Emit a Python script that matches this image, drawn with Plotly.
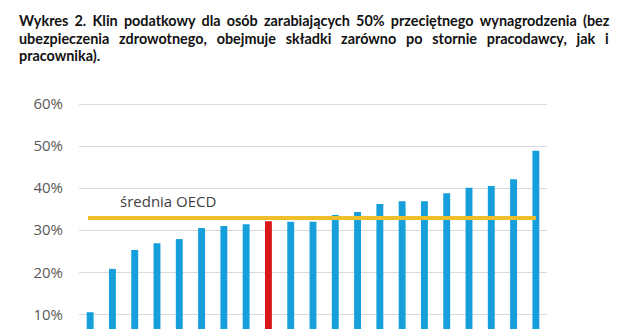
import plotly.graph_objects as go

# ---- data ----
positions = list(range(21))
values = [10.5, 20.8, 25.3, 26.9, 27.9, 30.5, 31.0, 31.4, 32.1, 32.0, 32.0,
          33.6, 34.3, 36.2, 36.9, 36.9, 38.8, 40.1, 40.5, 42.1, 48.9]
highlight_index = 8
oecd_avg = 32.9
oecd_label = "średnia OECD"
tick_vals = [10, 20, 30, 40, 50, 60]
tick_text = ["10%", "20%", "30%", "40%", "50%", "60%"]

title_lines = [
    "Wykres 2. Klin podatkowy dla osób zarabiających 50% przeciętnego wynagrodzenia (bez",
    "ubezpieczenia zdrowotnego, obejmuje składki zarówno po stornie pracodawcy, jak i",
    "pracownika).",
]

BLUE = "#169FDB"
RED = "#D8161B"
GOLD = "#EEBF2A"

W, H = 624, 329
ML, MR, MT, MB = 79, 77, 90, 0
PW = W - ML - MR
PH = H - MT - MB

colors = [RED if i == highlight_index else BLUE for i in positions]

fig = go.Figure()
fig.add_trace(go.Bar(x=positions, y=values, marker=dict(color=colors, line=dict(width=0)),
                     width=0.31, showlegend=False, hoverinfo="skip"))
fig.add_trace(go.Scatter(x=[positions[0] - 0.1, positions[-1]], y=[oecd_avg, oecd_avg], mode="lines",
                         line=dict(color=GOLD, width=4), showlegend=False, hoverinfo="skip"))

def px_x(px):
    return (px - ML) / PW

def px_y(py):
    return (H - MB - py) / PH

annotations = []
# justified title lines: extra thin / hair spaces per word gap
extra_gap = ["\u2009\u200A", "\u2009\u2009\u2009\u200A", ""]
line_y = [20, 38, 56]
for li, line in enumerate(title_lines):
    gap = " " + extra_gap[li]
    txt = gap.join(line.split(" "))
    annotations.append(dict(
        x=px_x(17), y=px_y(line_y[li]), xref="paper", yref="paper",
        xanchor="left", yanchor="middle", showarrow=False, text="<b>%s</b>" % txt,
        font=dict(family="Lato", size=14.4, color="#111111")))

annotations.append(dict(x=px_x(118), y=px_y(201), xref="paper", yref="paper",
                        xanchor="left", yanchor="middle", showarrow=False, text=oecd_label,
                        font=dict(family="Open Sans", size=15, color="#404040")))

fig.update_layout(
    width=W, height=H,
    margin=dict(l=ML, r=MR, t=MT, b=MB, pad=0),
    paper_bgcolor="white", plot_bgcolor="white",
    bargap=0.69,
    xaxis=dict(range=[-0.5, 20.5], showticklabels=False, showgrid=False, zeroline=False,
               showline=False, ticks=""),
    yaxis=dict(range=[6.51, 63.33], tickvals=tick_vals, ticktext=tick_text, showgrid=True,
               gridcolor="#D9D9D9", gridwidth=1, zeroline=False, showline=False, ticks="",
               tickfont=dict(family="Open Sans", size=15, color="#595959"),
               ticklabelstandoff=15),
    annotations=annotations,
)

fig.write_html("out.html")
